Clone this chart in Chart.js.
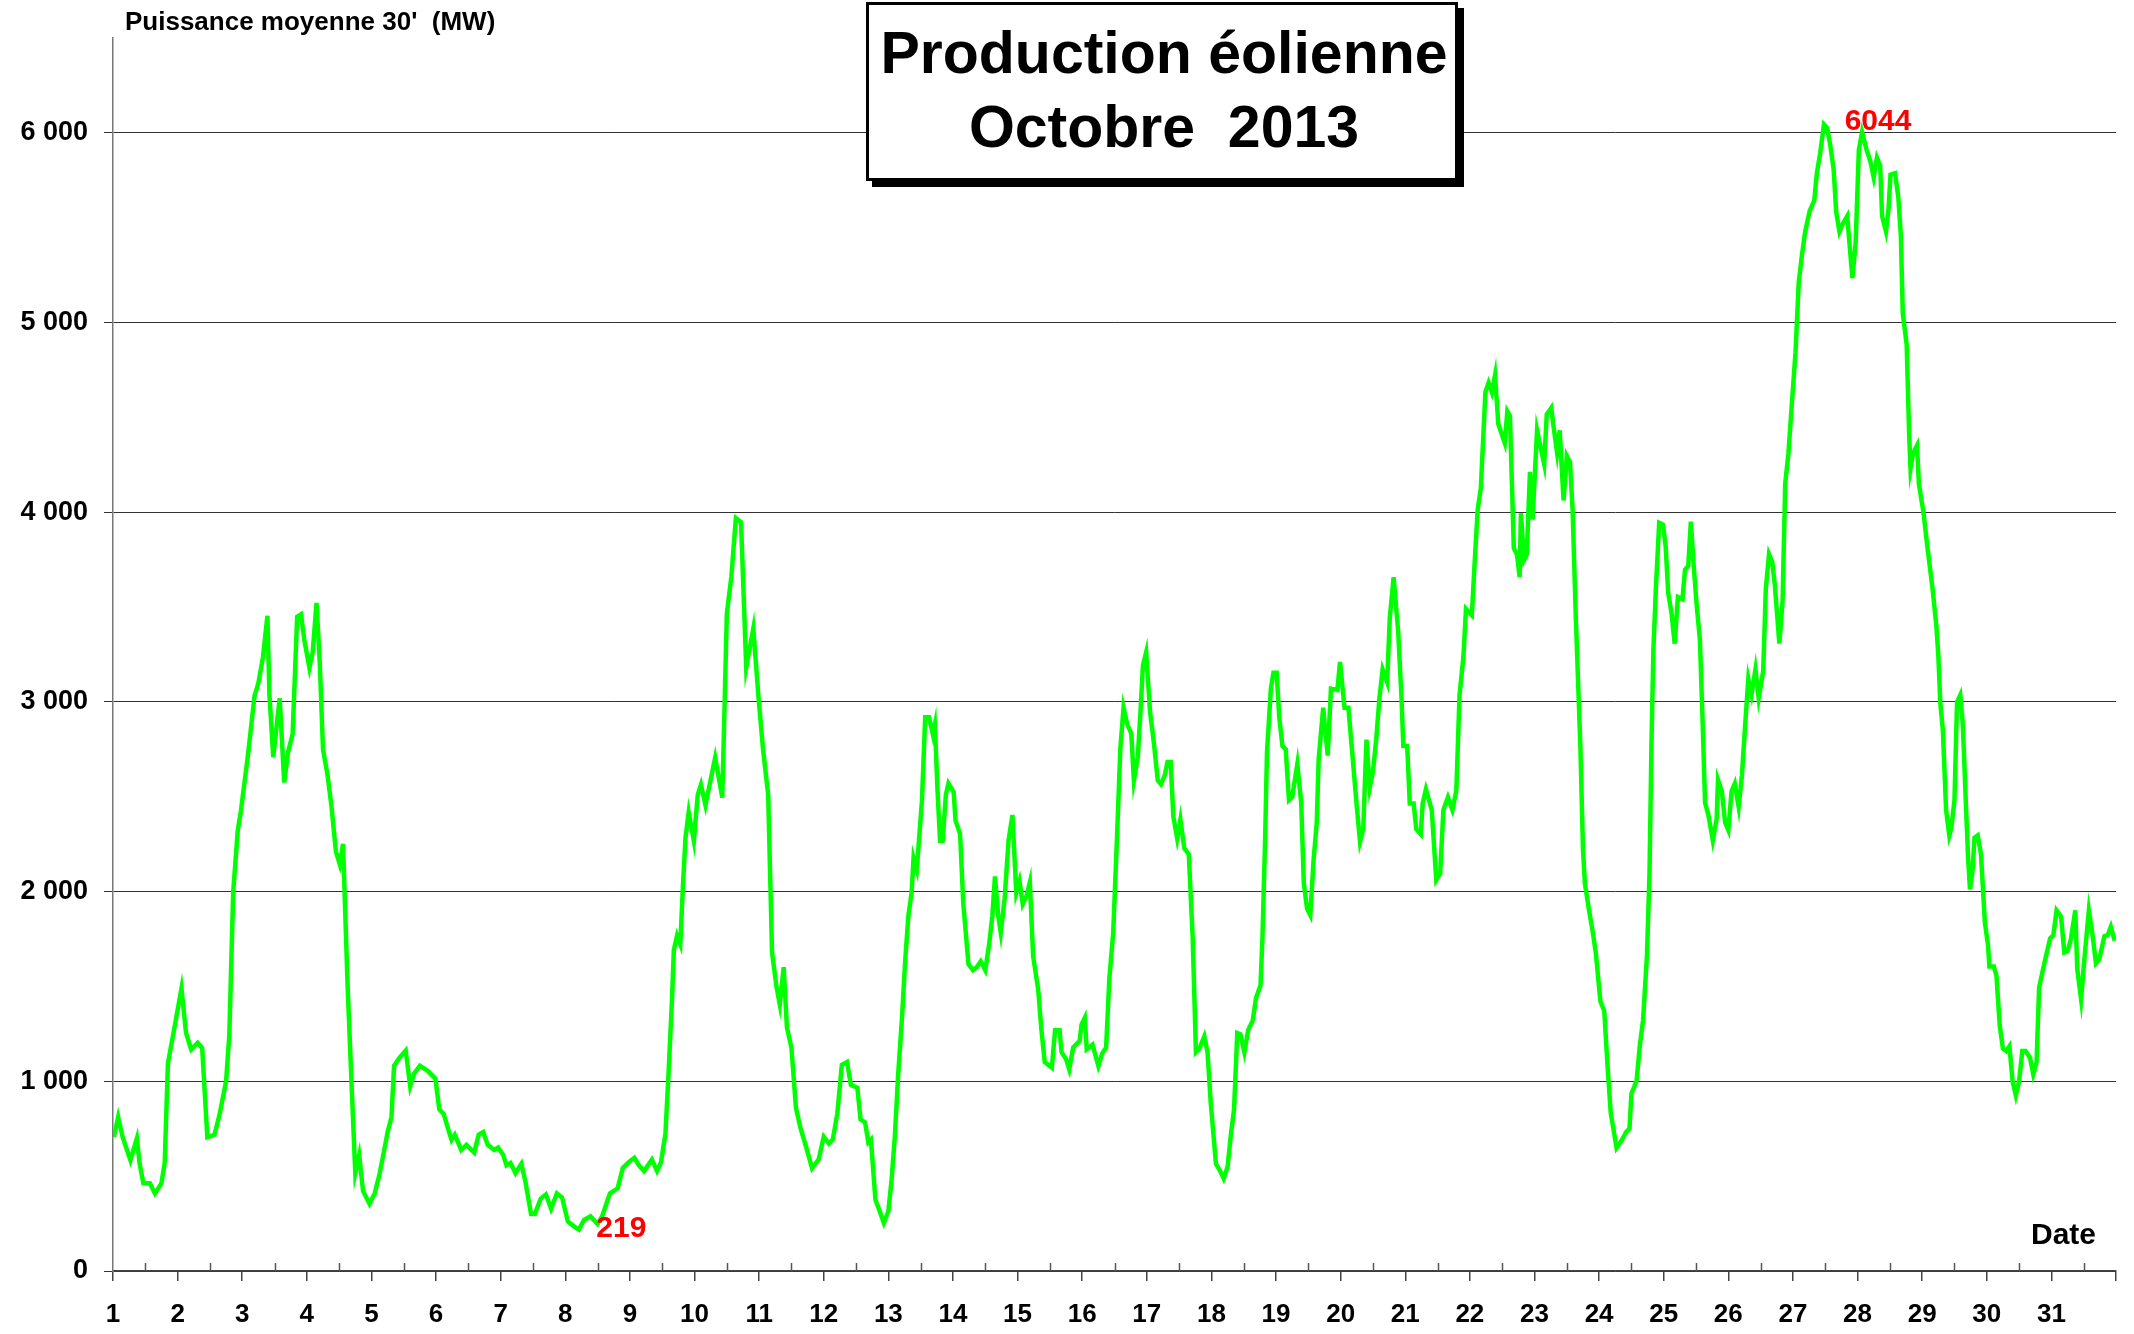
<!DOCTYPE html>
<html>
<head>
<meta charset="utf-8">
<script src="https://cdn.jsdelivr.net/npm/chart.js@4.4.1/dist/chart.umd.min.js"></script>
<style>
  html, body { margin: 0; padding: 0; background: #fff; }
  #wrap { position: relative; width: 2134px; height: 1334px; }
</style>
</head>
<body>
<div id="wrap"><canvas id="chart"></canvas></div>
<script>
// time in days (1 = 1 Oct 00:00), power in MW (half-hour average)
const days = [
  1.00, 1.02, 1.08, 1.15, 1.27, 1.37, 1.41, 1.47, 1.57, 1.65, 1.75, 1.80, 1.85, 1.93,
  2.06, 2.13, 2.21, 2.31, 2.38, 2.46, 2.57, 2.65, 2.75, 2.80, 2.86, 2.93, 2.98,
  3.09, 3.19, 3.25, 3.32, 3.39, 3.42, 3.48, 3.58, 3.65, 3.71, 3.78, 3.85, 3.91, 3.96,
  4.04, 4.09, 4.15, 4.20, 4.25, 4.32, 4.38, 4.45, 4.51, 4.56, 4.63, 4.70, 4.75, 4.81, 4.87, 4.97,
  5.05, 5.12, 5.19, 5.25, 5.31, 5.35, 5.43, 5.53, 5.60, 5.66, 5.75, 5.87, 5.99,
  6.05, 6.12, 6.19, 6.24, 6.29, 6.39, 6.47, 6.59, 6.66, 6.73, 6.80, 6.90, 6.96,
  7.04, 7.09, 7.15, 7.23, 7.32, 7.38, 7.47, 7.53, 7.62, 7.70, 7.78, 7.87, 7.95,
  8.04, 8.14, 8.21, 8.29, 8.39, 8.50, 8.57, 8.69, 8.81, 8.89, 8.99,
  9.07, 9.14, 9.22, 9.34, 9.42, 9.48, 9.55, 9.60, 9.65, 9.68, 9.73, 9.78, 9.82, 9.86, 9.91, 9.99,
  10.05, 10.10, 10.17, 10.22, 10.32, 10.43, 10.50, 10.57, 10.64, 10.72, 10.80, 10.91, 10.99,
  11.06, 11.14, 11.20, 11.27, 11.32, 11.38, 11.43, 11.50, 11.57, 11.64, 11.72, 11.82, 11.92,
  12.00, 12.08, 12.14, 12.21, 12.28, 12.36, 12.42, 12.52, 12.57, 12.64, 12.69, 12.73, 12.80, 12.85, 12.93,
  13.00, 13.05, 13.10, 13.15, 13.21, 13.26, 13.31, 13.36, 13.39, 13.44, 13.52, 13.57, 13.63, 13.69, 13.72, 13.76, 13.80, 13.84, 13.89, 13.93,
  14.01, 14.04, 14.11, 14.16, 14.24, 14.31, 14.37, 14.43, 14.50, 14.56, 14.61, 14.65, 14.70, 14.74, 14.80, 14.86, 14.92, 14.98,
  15.03, 15.08, 15.14, 15.19, 15.24, 15.32, 15.37, 15.42, 15.53, 15.58, 15.65, 15.68, 15.75, 15.80, 15.86, 15.96, 15.99,
  16.04, 16.07, 16.16, 16.25, 16.31, 16.37, 16.42, 16.48, 16.54, 16.59, 16.64, 16.70, 16.76, 16.80, 16.86, 16.90, 16.94, 16.99,
  17.05, 17.11, 17.17, 17.22, 17.28, 17.32, 17.37, 17.41, 17.47, 17.52, 17.58, 17.65, 17.71, 17.76, 17.81, 17.89, 17.94, 17.99,
  18.07, 18.13, 18.19, 18.25, 18.30, 18.35, 18.40, 18.45, 18.51, 18.57, 18.64, 18.69, 18.76, 18.79, 18.83, 18.86, 18.92, 18.96,
  19.01, 19.05, 19.10, 19.15, 19.20, 19.25, 19.33, 19.39, 19.43, 19.48, 19.53, 19.58, 19.63, 19.66, 19.73, 19.80, 19.85, 19.95, 19.99,
  20.06, 20.12, 20.20, 20.25, 20.30, 20.35, 20.40, 20.45, 20.50, 20.55, 20.60, 20.65, 20.72, 20.76, 20.82, 20.89, 20.94, 20.97,
  21.03, 21.07, 21.13, 21.17, 21.24, 21.27, 21.32, 21.41, 21.48, 21.54, 21.59, 21.66, 21.73, 21.79, 21.84, 21.90, 21.94,
  22.03, 22.07, 22.12, 22.17, 22.24, 22.29, 22.34, 22.39, 22.44, 22.49, 22.54, 22.58, 22.62, 22.68, 22.73, 22.77, 22.79, 22.84, 22.88, 22.93, 22.97,
  23.04, 23.15, 23.19, 23.26, 23.29, 23.35, 23.39, 23.45, 23.50, 23.55, 23.59, 23.64, 23.71, 23.75, 23.78, 23.84, 23.90, 23.95,
  24.02, 24.08, 24.13, 24.18, 24.27, 24.35, 24.42, 24.47, 24.50, 24.58, 24.63, 24.68, 24.74, 24.78, 24.81, 24.84, 24.88, 24.93, 24.99,
  25.03, 25.07, 25.12, 25.17, 25.22, 25.29, 25.33, 25.38, 25.42, 25.46, 25.51, 25.56, 25.60, 25.64, 25.69, 25.76, 25.82, 25.84, 25.90, 25.95,
  26.00, 26.05, 26.10, 26.16, 26.21, 26.26, 26.31, 26.36, 26.42, 26.47, 26.54, 26.58, 26.63, 26.68, 26.72, 26.79, 26.84, 26.88, 26.93, 26.98,
  27.04, 27.09, 27.14, 27.19, 27.26, 27.33, 27.37, 27.42, 27.48, 27.53, 27.58, 27.63, 27.67, 27.72, 27.77, 27.84, 27.89, 27.92, 27.97,
  28.02, 28.07, 28.14, 28.20, 28.25, 28.30, 28.35, 28.38, 28.44, 28.48, 28.51, 28.58, 28.63, 28.67, 28.70, 28.76, 28.80, 28.82, 28.86, 28.92, 28.95,
  29.02, 29.08, 29.16, 29.22, 29.25, 29.28, 29.32, 29.37, 29.42, 29.45, 29.50, 29.54, 29.59, 29.63, 29.68, 29.71, 29.74, 29.78, 29.81, 29.86, 29.91, 29.97,
  30.02, 30.04, 30.11, 30.15, 30.20, 30.25, 30.30, 30.35, 30.40, 30.45, 30.50, 30.55, 30.60, 30.67, 30.72, 30.77, 30.81, 30.88, 30.93, 30.98,
  31.03, 31.08, 31.15, 31.20, 31.25, 31.30, 31.37, 31.40, 31.46, 31.51, 31.58, 31.64, 31.69, 31.74, 31.82, 31.87, 31.92, 31.98
];
const power = [
  720, 718, 812, 705, 584, 700, 570, 463, 463, 409, 463, 570, 1095, 1243,
  1490, 1256, 1168, 1203, 1176, 705, 718, 826, 1001, 1243, 1996, 2319, 2427,
  2723, 3032, 3099, 3234, 3454, 3045, 2709, 3019, 2575, 2736, 2830, 3449, 3462, 3328,
  3180, 3261, 3522, 3207, 2750, 2615, 2454, 2211, 2144, 2252, 1512, 920, 516, 611, 422, 355,
  409, 503, 624, 732, 812, 1082, 1122, 1162, 974, 1041, 1082, 1055, 1014,
  853, 826, 745, 691, 718, 638, 665, 624, 718, 732, 665, 638, 651,
  611, 557, 570, 516, 565, 476, 301, 301, 382, 404, 328, 409, 387,
  261, 234, 219, 269, 288, 248, 288, 409, 436, 543, 576,
  597, 557, 527, 587, 527, 572, 724, 1057, 1420, 1692, 1768, 1723, 2025, 2283, 2419, 2268,
  2510, 2564, 2455, 2540, 2707, 2495, 3464, 3660, 3969, 3948, 3182, 3388, 3025,
  2752, 2510, 1677, 1496, 1405, 1602, 1284, 1178, 860, 754, 663, 542, 587,
  708, 672, 693, 830, 1087, 1102, 981, 966, 799, 784, 678, 693, 375, 330, 254,
  315, 481, 708, 1026, 1329, 1632, 1874, 1995, 2177, 2116, 2480, 2919, 2919, 2828, 2879, 2540, 2268, 2268, 2510, 2570,
  2525, 2374, 2304, 1935, 1617, 1586, 1602, 1632, 1586, 1723, 1874, 2080, 1874, 1783, 1965, 2268, 2404, 1995,
  2056, 1935, 1980, 2050, 1662, 1480, 1269, 1102, 1072, 1269, 1269, 1154, 1117, 1063, 1178, 1214, 1299,
  1335, 1169, 1193, 1081, 1147, 1178, 1541, 1783, 2298, 2752, 2970, 2879, 2834, 2586, 2707, 2934, 3191, 3261,
  2949, 2782, 2586, 2566, 2616, 2683, 2683, 2397, 2280, 2381, 2229, 2196, 1759, 1153, 1170, 1237, 1153, 884,
  565, 531, 488, 548, 716, 851, 1254, 1247, 1153, 1271, 1321, 1439, 1506, 1759, 2263, 2734, 3070, 3154,
  3154, 2919, 2767, 2750, 2482, 2498, 2673, 2465, 2044, 1910, 1876, 2162, 2364, 2700, 2969, 2717, 3070, 3063, 3211,
  2969, 2969, 2650, 2448, 2263, 2330, 2801, 2549, 2633, 2801, 3020, 3171, 3104, 3440, 3658, 3373, 3036, 2767,
  2767, 2465, 2465, 2330, 2303, 2465, 2539, 2431, 2061, 2095, 2431, 2498, 2431, 2532, 3036, 3238, 3490,
  3457, 3709, 4011, 4129, 4633, 4683, 4633, 4724, 4465, 4415, 4365, 4532, 4508, 3810, 3776, 3658, 3995, 3749, 3776, 4213, 3961,
  4432, 4254, 4516, 4550, 4465, 4314, 4432, 4062, 4297, 4264, 4011, 3440, 2767, 2229, 2044, 1910, 1792, 1675,
  1422, 1371, 1086, 834, 649, 689, 733, 750, 935, 1003, 1187, 1321, 1658, 2095, 2767, 3272, 3608, 3944, 3934,
  3820, 3574, 3471, 3307, 3553, 3541, 3697, 3717, 3951, 3738, 3512, 3328, 2918, 2467, 2406, 2270, 2385, 2590, 2529, 2365,
  2324, 2529, 2570, 2447, 2611, 2877, 3123, 3041, 3172, 3020, 3164, 3594, 3779, 3738, 3615, 3307, 3533, 4148, 4311, 4557,
  4844, 5213, 5357, 5480, 5590, 5643, 5787, 5889, 6044, 6025, 5930, 5807, 5582, 5480, 5520, 5561, 5357, 5234, 5418,
  5910, 6004, 5910, 5848, 5766, 5869, 5828, 5561, 5480, 5602, 5779, 5787, 5664, 5459, 5049, 4885, 4393, 4230, 4311, 4352, 4148,
  4000, 3820, 3600, 3400, 3247, 3000, 2852, 2432, 2296, 2333, 2481, 3000, 3037, 2877, 2432, 2185, 2012, 2111, 2284, 2296, 2198, 1840,
  1716, 1605, 1605, 1556, 1296, 1173, 1160, 1185, 1000, 926, 1000, 1160, 1160, 1123, 1037, 1099, 1494, 1605, 1679, 1753,
  1770, 1901, 1869, 1679, 1686, 1746, 1901, 1593, 1432, 1642, 1901, 1765, 1622, 1642, 1765, 1770, 1815, 1741
];

const dayTicks = Array.from({ length: 32 }, (_, i) => i + 1);   // 1..32, label 1..31
const halfDayTicks = Array.from({ length: 31 }, (_, i) => i + 1.5);
const yTicks = [0, 1000, 2000, 3000, 4000, 5000, 6000];

const titleLines = ['Production éolienne', 'Octobre  2013'];
const yTitle = "Puissance moyenne 30'  (MW)";
const xTitle = 'Date';
const maxNote = { text: '6044', day: 27.8, value: 6060 };
const minNote = { text: '219', day: 8.48, value: 222 };

const FONT = '"Liberation Sans", Arial, Helvetica, sans-serif';

function fmtThousands(v) {
  if (v < 1000) return String(v);
  return Math.floor(v / 1000) + ' ' + String(v % 1000).padStart(3, '0');
}

const overlay = {
  id: 'overlay',
  afterDraw(chart) {
    const { ctx, scales: { x, y } } = chart;
    ctx.save();

    // small half-day ticks pointing up into the plot
    ctx.strokeStyle = '#555';
    ctx.lineWidth = 1.5;
    halfDayTicks.forEach(d => {
      const px = Math.round(x.getPixelForValue(d)) + 0.5;
      ctx.beginPath();
      ctx.moveTo(px, y.bottom);
      ctx.lineTo(px, y.bottom - 8);
      ctx.stroke();
    });

    // axis titles
    ctx.fillStyle = '#000';
    ctx.font = 'bold 26px ' + FONT;
    ctx.textBaseline = 'middle';
    ctx.textAlign = 'left';
    ctx.fillText(yTitle, 125, 23);

    ctx.font = 'bold 30px ' + FONT;
    ctx.textAlign = 'right';
    ctx.fillText(xTitle, 2096, 1236);

    // min / max notes
    ctx.fillStyle = '#ff0000';
    ctx.font = 'bold 30px ' + FONT;
    ctx.textAlign = 'left';
    ctx.fillText(maxNote.text, x.getPixelForValue(maxNote.day), y.getPixelForValue(maxNote.value));
    ctx.fillText(minNote.text, x.getPixelForValue(minNote.day), y.getPixelForValue(minNote.value));

    // title box with drop shadow
    const bx = 866, by = 2, bw = 592, bh = 179;
    ctx.fillStyle = '#000';
    ctx.fillRect(bx + 6, by + 6, bw, bh);
    ctx.fillStyle = '#fff';
    ctx.fillRect(bx, by, bw, bh);
    ctx.strokeStyle = '#000';
    ctx.lineWidth = 3;
    ctx.strokeRect(bx + 1.5, by + 1.5, bw - 3, bh - 3);

    ctx.fillStyle = '#000';
    ctx.font = 'bold 59px ' + FONT;
    ctx.textAlign = 'center';
    ctx.fillText(titleLines[0], bx + bw / 2 + 2, 57);
    ctx.fillText(titleLines[1], bx + bw / 2 + 2, 131);

    ctx.restore();
  }
};

new Chart(document.getElementById('chart'), {
  type: 'line',
  data: {
    datasets: [{
      data: days.map((d, i) => ({ x: d, y: power[i] })),
      borderColor: '#00ff00',
      borderWidth: 4.5,
      pointRadius: 0,
      tension: 0,
      fill: false
    }]
  },
  options: {
    responsive: true,
    maintainAspectRatio: false,
    animation: false,
    layout: { padding: { top: 38, right: 18, left: 0, bottom: 0 } },
    plugins: { legend: { display: false }, tooltip: { enabled: false } },
    scales: {
      x: {
        type: 'linear',
        min: 1,
        max: 32,
        afterBuildTicks(axis) { axis.ticks = dayTicks.map(v => ({ value: v })); },
        afterFit(axis) { axis.height = 63; },
        grid: { drawOnChartArea: false, drawTicks: true, tickLength: 10, color: '#444', lineWidth: 1.5 },
        border: { display: true, color: '#444', width: 1.5 },
        ticks: {
          autoSkip: false,
          maxRotation: 0,
          padding: 18,
          color: '#000',
          font: { family: FONT, size: 26, weight: 'bold' },
          callback: v => (v < 32 ? String(v) : '')
        }
      },
      y: {
        min: 0,
        max: 6500,
        afterBuildTicks(axis) { axis.ticks = yTicks.map(v => ({ value: v })); },
        afterFit(axis) { axis.width = 113; },
        grid: { color: '#333', lineWidth: 1, tickLength: 9 },
        border: { display: true, color: '#777', width: 1.5 },
        ticks: {
          padding: 16,
          color: '#000',
          font: { family: FONT, size: 27, weight: 'bold' },
          callback: v => fmtThousands(v)
        }
      }
    }
  },
  plugins: [overlay]
});
</script>
</body>
</html>
